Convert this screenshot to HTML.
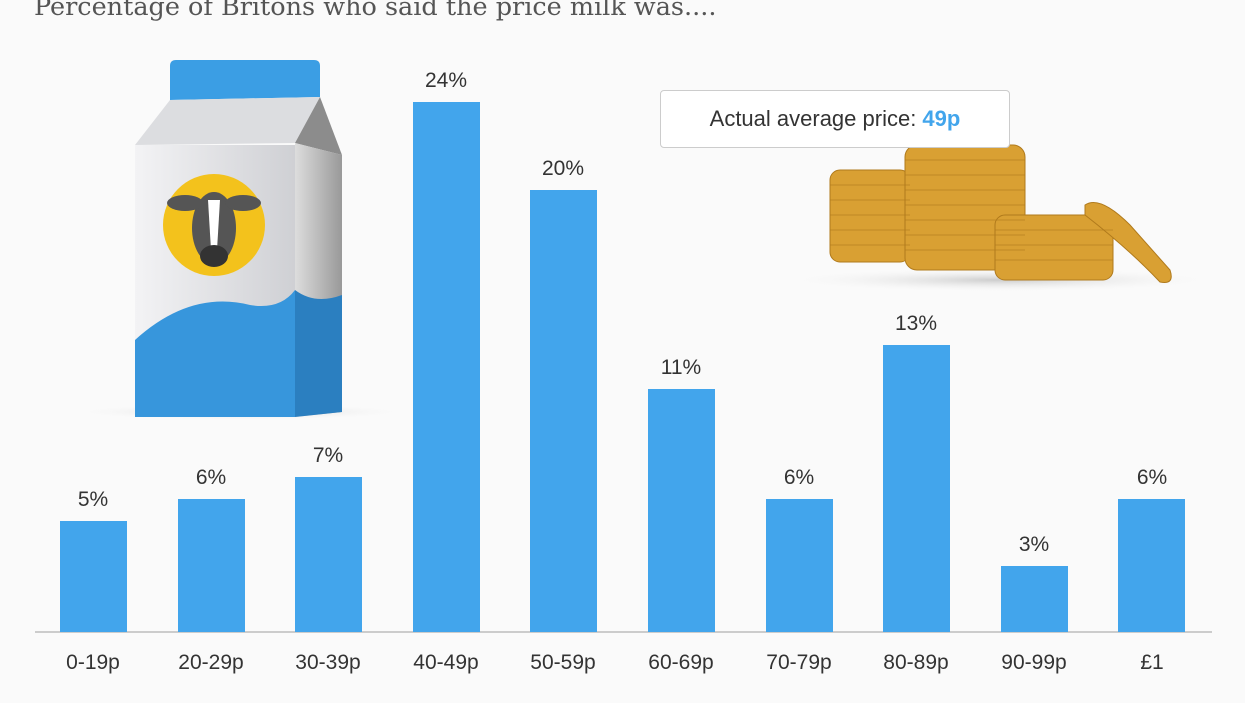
<!DOCTYPE html>
<html><head><style>
body{margin:0;width:1245px;height:703px;background:#fafafa;overflow:hidden;position:relative;font-family:"Liberation Sans",sans-serif}
.t{position:absolute;left:34px;top:-8px;font-family:"DejaVu Serif",serif;font-size:25.5px;color:#555;white-space:nowrap}
.bar{position:absolute;background:#42a5ec;width:67px}
.v{position:absolute;width:100px;text-align:center;font-size:21px;color:#333}
.x{position:absolute;width:120px;text-align:center;font-size:21px;color:#333;top:651px}
</style></head><body>
<div class="t">Percentage of Britons who said the price milk was....</div>
<svg style="position:absolute;left:0;top:0" width="1245" height="703">
<defs>
<linearGradient id="f" x1="0" x2="1"><stop offset="0" stop-color="#f3f3f5"/><stop offset="1" stop-color="#cfd0d4"/></linearGradient>
<linearGradient id="s" x1="0" x2="1"><stop offset="0" stop-color="#ddd"/><stop offset="1" stop-color="#999"/></linearGradient>
<radialGradient id="sh"><stop offset="0" stop-color="#ccc"/><stop offset="1" stop-color="#fafafa" stop-opacity="0"/></radialGradient>
</defs>
<ellipse cx="240" cy="412" rx="170" ry="8" fill="url(#sh)"/>
<path d="M170 66 Q170 60 176 60 L314 60 Q320 60 320 66 L320 97 L170 100Z" fill="#3b9ee4"/>
<path d="M170 100 L320 97 L295 143 L135 145Z" fill="#dcdde0"/>
<path d="M320 97 L342 155 L295 143Z" fill="#8c8c8c"/>
<rect x="135" y="145" width="160" height="272" fill="url(#f)"/>
<path d="M295 143 L342 155 L342 412 L295 417Z" fill="url(#s)"/>
<path d="M135 340 Q190 290 250 305 Q280 310 295 290 L295 417 L135 417Z" fill="#3796dc"/>
<path d="M295 290 Q315 305 342 295 L342 412 L295 417Z" fill="#2b7fc0"/>
<circle cx="214" cy="225" r="51" fill="#f3c21c"/>
<ellipse cx="214" cy="228" rx="22" ry="36" fill="#555"/>
<path d="M208 200 L220 200 L217 250 L211 250Z" fill="#fff"/>
<ellipse cx="185" cy="203" rx="18" ry="8" fill="#555"/><ellipse cx="243" cy="203" rx="18" ry="8" fill="#555"/>
<ellipse cx="214" cy="256" rx="14" ry="11" fill="#333"/>
<ellipse cx="1000" cy="280" rx="220" ry="12" fill="url(#sh)"/>
<g fill="#d9a033" stroke="#b07a1c" stroke-width="1">
<rect x="830" y="170" width="80" height="92" rx="10"/>
<rect x="905" y="145" width="120" height="125" rx="12"/>
<rect x="995" y="215" width="118" height="65" rx="10"/>
<path d="M1085 205 Q1100 195 1130 225 L1170 270 Q1175 285 1160 282 Q1130 250 1085 215Z"/>
</g>
<g stroke="#b07a1c" stroke-width="1" opacity=".6">
<line x1="830" y1="185" x2="910" y2="185"/><line x1="830" y1="200" x2="910" y2="200"/><line x1="830" y1="215" x2="910" y2="215"/><line x1="830" y1="230" x2="910" y2="230"/><line x1="830" y1="245" x2="910" y2="245"/>
<line x1="905" y1="160" x2="1025" y2="160"/><line x1="905" y1="175" x2="1025" y2="175"/><line x1="905" y1="190" x2="1025" y2="190"/><line x1="905" y1="205" x2="1025" y2="205"/><line x1="905" y1="220" x2="1025" y2="220"/><line x1="905" y1="235" x2="1025" y2="235"/><line x1="905" y1="250" x2="1025" y2="250"/>
<line x1="995" y1="230" x2="1113" y2="230"/><line x1="995" y1="245" x2="1113" y2="245"/><line x1="995" y1="260" x2="1113" y2="260"/>
</g>
<line x1="35" y1="632" x2="1212" y2="632" stroke="#ccc" stroke-width="2"/>
</svg>
<div style="position:absolute;left:660px;top:90px;width:348px;height:56px;border:1px solid #ccc;border-radius:4px;background:#fff;font-size:22px;color:#333;line-height:56px;text-align:center">Actual average price: <b style="color:#42a5ec">49p</b></div>
<div class="bar" style="left:60px;top:521px;height:111px"></div>
<div class="bar" style="left:178px;top:499px;height:133px"></div>
<div class="bar" style="left:295px;top:477px;height:155px"></div>
<div class="bar" style="left:413px;top:102px;height:530px"></div>
<div class="bar" style="left:530px;top:190px;height:442px"></div>
<div class="bar" style="left:648px;top:389px;height:243px"></div>
<div class="bar" style="left:766px;top:499px;height:133px"></div>
<div class="bar" style="left:883px;top:345px;height:287px"></div>
<div class="bar" style="left:1001px;top:566px;height:66px"></div>
<div class="bar" style="left:1118px;top:499px;height:133px"></div>
<div class="v" style="left:43px;top:488px">5%</div>
<div class="v" style="left:161px;top:466px">6%</div>
<div class="v" style="left:278px;top:444px">7%</div>
<div class="v" style="left:396px;top:69px">24%</div>
<div class="v" style="left:513px;top:157px">20%</div>
<div class="v" style="left:631px;top:356px">11%</div>
<div class="v" style="left:749px;top:466px">6%</div>
<div class="v" style="left:866px;top:312px">13%</div>
<div class="v" style="left:984px;top:533px">3%</div>
<div class="v" style="left:1102px;top:466px">6%</div>
<div class="x" style="left:33px">0-19p</div>
<div class="x" style="left:151px">20-29p</div>
<div class="x" style="left:268px">30-39p</div>
<div class="x" style="left:386px">40-49p</div>
<div class="x" style="left:503px">50-59p</div>
<div class="x" style="left:621px">60-69p</div>
<div class="x" style="left:739px">70-79p</div>
<div class="x" style="left:856px">80-89p</div>
<div class="x" style="left:974px">90-99p</div>
<div class="x" style="left:1092px">£1</div>
</body></html>
